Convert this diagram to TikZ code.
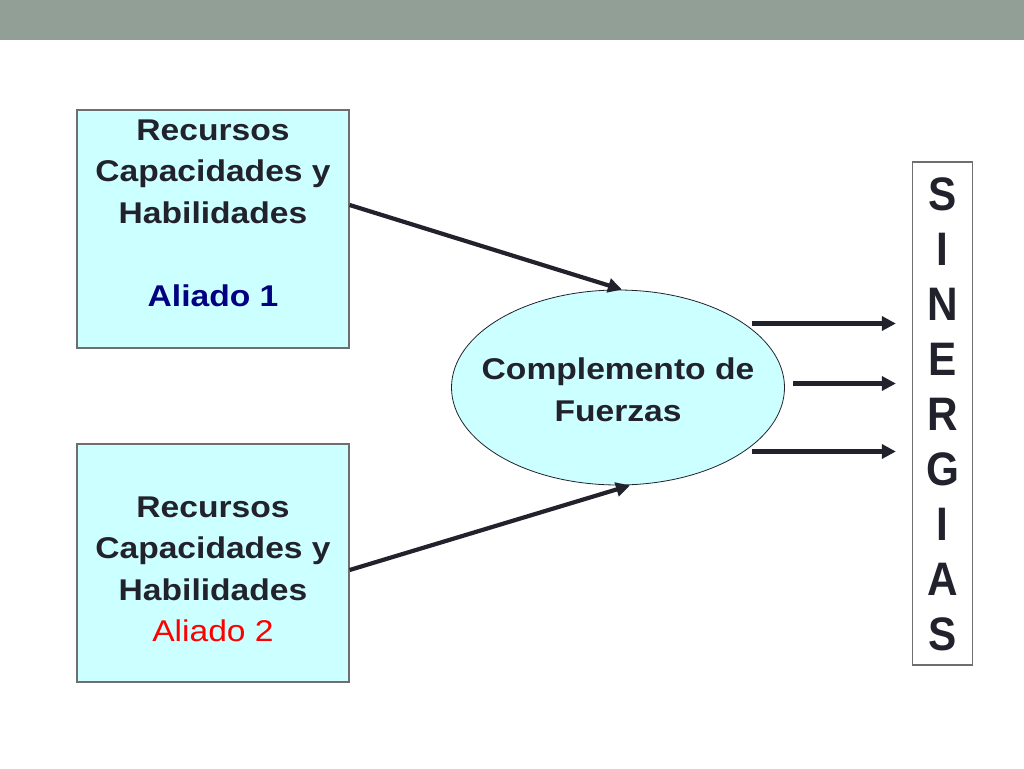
\documentclass[tikz,border=0pt]{standalone}
\usepackage{fontspec}
\usepackage{graphicx}
\setmainfont{Liberation Sans}
\usetikzlibrary{arrows.meta,shapes.geometric,calc}
\definecolor{barcol}{RGB}{145,159,150}
\definecolor{boxfill}{RGB}{204,255,255}
\definecolor{boxline}{RGB}{110,110,110}
\definecolor{txt}{RGB}{34,34,44}
\definecolor{navy}{RGB}{0,0,128}
\definecolor{redtxt}{RGB}{255,0,0}
\newcommand{\wideblock}[2]{\scalebox{#1}[1]{\begin{tabular}{@{}c@{}}#2\end{tabular}}}
\tikzset{
  allybox/.style={draw=boxline, line width=1.3pt, fill=boxfill, minimum width=272pt, minimum height=238pt, inner sep=0pt},
  boxtext/.style={text=txt, font=\bfseries\fontsize{30}{41.5}\selectfont, inner sep=0pt},
  ellnode/.style={ellipse, draw=txt, line width=0.8pt, fill=boxfill, minimum width=333pt, minimum height=195pt, inner sep=0pt},
  sinbox/.style={draw=boxline, line width=1.3pt, minimum width=60pt, minimum height=503pt, inner sep=0pt},
  sintext/.style={text=txt, font=\bfseries\fontsize{47}{55}\selectfont, inner sep=0pt},
  conn/.style={draw=txt, line width=4.2pt, -{Triangle[length=14pt,width=14pt]}}
}
\begin{document}
\begin{tikzpicture}[x=1pt,y=-1pt]
\useasboundingbox (0,0) rectangle (1024,768);
\fill[barcol] (0,0) rectangle (1024,40);
\node[allybox] (b1) at (213,229) {};
\node[allybox] (b2) at (213,563) {};
\node[boxtext] (t1) at (213,215) {\wideblock{1.12}{Recursos\\Capacidades y\\Habilidades\\[41.5pt]\textcolor{navy}{Aliado 1}}};
\node[boxtext] (t2) at (213,571) {\wideblock{1.12}{Recursos\\Capacidades y\\Habilidades\\\textcolor{redtxt}{\mdseries Aliado 2}}};
\node[ellnode] (ell) at (618,387.5) {};
\node[boxtext] (et) at (618,392) {\wideblock{1.12}{Complemento de\\Fuerzas}};
\node[sinbox] (sin) at (942.5,413.5) {};
\node[sintext] (st) at (942.5,419.5) {\wideblock{0.9}{S\\I\\N\\E\\R\\G\\I\\A\\S}};
\coordinate (s1) at ([xshift=134pt,yshift=64pt]ell.center);
\coordinate (s2) at ([xshift=175pt,yshift=4pt]ell.center);
\coordinate (s3) at ([xshift=134pt,yshift=-64pt]ell.center);
\draw[conn] ([yshift=24pt]b1.east) -- ([xshift=4pt]ell.north);
\draw[conn] ([yshift=-7pt]b2.east) -- ([xshift=12pt]ell.south);
\draw[conn] (s1) -- ($(s1 -| sin.west)+(-16,0)$);
\draw[conn] (s2) -- ($(s2 -| sin.west)+(-16,0)$);
\draw[conn] (s3) -- ($(s3 -| sin.west)+(-16,0)$);
\end{tikzpicture}
\end{document}
